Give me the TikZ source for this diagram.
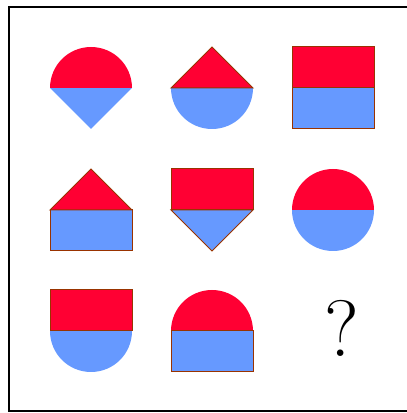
\documentclass[tikz,border=0pt]{standalone}
\definecolor{topred}{RGB}{255,0,51}
\definecolor{lowblue}{RGB}{102,153,255}
\definecolor{rimbrown}{RGB}{153,51,0}
\tikzset{
  upper/.style={fill=topred},
  lower/.style={fill=lowblue},
  rim/.style={draw=rimbrown, line width=1pt},
}
% halves of a piece, centre (#2,#3), half size 41
\newcommand{\capdisc}[3]{\path[#1] (#2-41,#3) arc (180:0:41) -- cycle;}
\newcommand{\cupdisc}[3]{\path[#1] (#2-41,#3) arc (180:360:41) -- cycle;}
\newcommand{\captri}[3]{\path[#1] (#2-41,#3) -- (#2,#3+41) -- (#2+41,#3) -- cycle;}
\newcommand{\cuptri}[3]{\path[#1] (#2-41,#3) -- (#2,#3-41) -- (#2+41,#3) -- cycle;}
\newcommand{\capbox}[3]{\path[#1] (#2-41,#3) rectangle (#2+41,#3+41);}
\newcommand{\cupbox}[3]{\path[#1] (#2-41,#3) rectangle (#2+41,#3-41);}
\begin{document}
\begin{tikzpicture}[x=1pt, y=1pt]
    \useasboundingbox (0,0) rectangle (407,413);
    \draw[line width=1.2pt] (9,2) rectangle (409,406);
    % first row
    \cuptri{lower}{91}{325}
    \capdisc{upper}{91}{325}
    \cupdisc{lower}{212}{325}
    \captri{upper, rim}{212}{325}
    \cupbox{lower, rim}{333}{325}
    \capbox{upper, rim}{333}{325}
    % second row
    \cupbox{lower, rim}{91}{203}
    \captri{upper, rim}{91}{203}
    \cuptri{lower, rim}{212}{203}
    \capbox{upper, rim}{212}{203}
    \cupdisc{lower}{333}{203}
    \capdisc{upper}{333}{203}
    % third row
    \cupdisc{lower}{91}{82}
    \capbox{upper, rim}{91}{82}
    \capdisc{upper}{212}{82}
    \cupbox{lower, rim}{212}{82}
    \node (ask) at (342,85) {\fontsize{80}{96}\selectfont ?};
\end{tikzpicture}
\end{document}
